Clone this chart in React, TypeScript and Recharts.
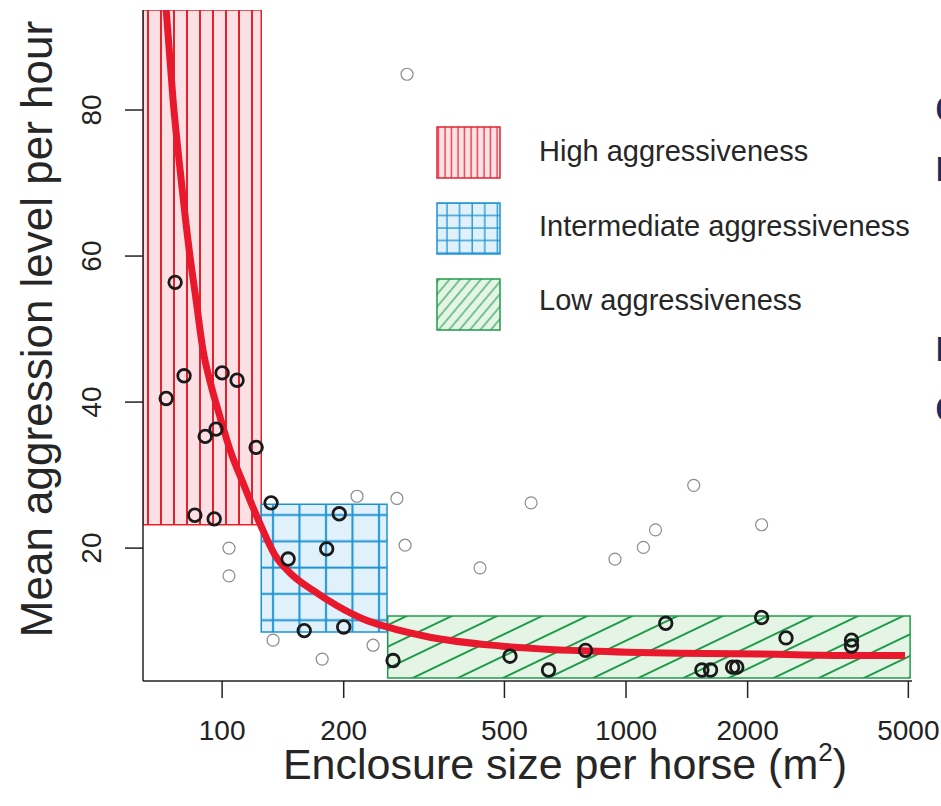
import React from 'react';
import { ComposedChart, XAxis, YAxis, Scatter, Line, ReferenceArea } from 'recharts';

// enclosure size (m2) and mean aggression per hour
const boldSize = [76.5, 72.7, 80.5, 100, 108.9, 90.8, 96.6, 121.4, 85.6, 95.6, 132.2, 145.7, 181.5, 195, 159.7, 200, 265, 516, 643, 794, 1254, 1541, 1619, 1836, 1880, 2166, 2489, 3616, 3616];
const boldRate = [56.4, 40.5, 43.6, 44.0, 43.0, 35.3, 36.3, 33.8, 24.5, 24.0, 26.2, 18.5, 19.9, 24.7, 8.7, 9.2, 4.6, 5.2, 3.3, 6.0, 9.7, 3.3, 3.3, 3.7, 3.7, 10.5, 7.7, 7.4, 6.6];

const greySize = [287, 104, 104, 133.7, 176.9, 215.8, 236.5, 270.9, 283.8, 435, 582, 939, 1104, 1183, 1471, 2166];
const greyRate = [84.9, 20.0, 16.2, 7.4, 4.8, 27.1, 6.7, 26.8, 20.4, 17.3, 26.2, 18.5, 20.1, 22.5, 28.6, 23.2];

// fitted curve
const curveSize = [72.7, 75.6, 79.2, 82.9, 86.2, 89.7, 93.9, 98.9, 104.7, 112.7, 124.2, 135.3, 147.3, 168, 192.6, 223.4, 256, 327, 488, 815, 1360, 2146, 3585, 4906];
const curveRate = [93.7, 81.4, 70.4, 60.8, 54.0, 47.1, 42.3, 37.9, 33.4, 28.9, 23.3, 19.0, 16.6, 14.2, 12.1, 10.3, 9.2, 7.8, 6.6, 5.9, 5.6, 5.5, 5.3, 5.3];

// aggressiveness zones
const zoneNames = ['High aggressiveness', 'Intermediate aggressiveness', 'Low aggressiveness'];
const zoneSizeFrom = [63.7, 125, 257];
const zoneSizeTo = [125, 256, 5050];
const zoneRateFrom = [23.2, 8.5, 2.2];
const zoneRateTo = [93.7, 26.0, 10.7];

const xTicks = [100, 200, 500, 1000, 2000, 5000];
const yTicks = [20, 40, 60, 80];

const FONT = '"Liberation Sans", Arial, sans-serif';
const zoneFill = ['url(#hatchRed)', 'url(#hatchBlue)', 'url(#hatchGreen)'];
const zoneStroke = ['#e3222e', '#1b93d3', '#1f9a4a'];
const legendFill = ['url(#legRed)', 'url(#legBlue)', 'url(#legGreen)'];

const bold = boldSize.map((x, i) => ({ x, y: boldRate[i] }));
const grey = greySize.map((x, i) => ({ x, y: greyRate[i] }));
const curve = curveSize.map((x, i) => ({ x, y: curveRate[i] }));

const XTick = (p: any) => (
  <text x={p.x} y={p.y + 40} textAnchor="middle" fontSize={28} fontFamily={FONT} fill="#222">
    {p.payload.value}
  </text>
);

const YTick = (p: any) => {
  const bx = p.x - 22;
  return (
    <text x={bx} y={p.y} transform={`rotate(-90 ${bx} ${p.y})`} textAnchor="middle" fontSize={28} fontFamily={FONT} fill="#222">
      {p.payload.value}
    </text>
  );
};

const BoldDot = (p: any) => <circle cx={p.cx} cy={p.cy} r={6.3} fill="none" stroke="#1a1a1a" strokeWidth={2.8} />;
const GreyDot = (p: any) => <circle cx={p.cx} cy={p.cy} r={6} fill="none" stroke="#8c8c8c" strokeWidth={1.2} />;

export default function App() {
  return (
    <div style={{ position: 'absolute', left: 0, top: 0, width: 941, height: 806, overflow: 'hidden', background: '#fff' }}>
      <ComposedChart width={941} height={806} margin={{ top: 10, right: 29, bottom: 0, left: 0 }}>
        <defs>
          <pattern id="hatchRed" patternUnits="userSpaceOnUse" width={13} height={10}>
            <rect width={13} height={10} fill="#fde0e4" />
            <line x1={5} y1={0} x2={5} y2={10} stroke="#e3222e" strokeWidth={2} />
          </pattern>
          <pattern id="hatchBlue" patternUnits="userSpaceOnUse" width={26.5} height={26.3}>
            <rect width={26.5} height={26.3} fill="#e1f1fb" />
            <line x1={8} y1={0} x2={8} y2={26.3} stroke="#1b93d3" strokeWidth={2} />
            <line x1={0} y1={15.3} x2={26.5} y2={15.3} stroke="#1b93d3" strokeWidth={2} />
          </pattern>
          <pattern id="hatchGreen" patternUnits="userSpaceOnUse" width={10} height={19.5} patternTransform="rotate(-25.6)">
            <rect width={10} height={19.5} fill="#e4f5e6" />
            <line x1={0} y1={9.75} x2={10} y2={9.75} stroke="#1f9a4a" strokeWidth={2} />
          </pattern>
        </defs>
        <XAxis
          dataKey="x"
          type="number"
          scale="log"
          domain={[63.7, 5105]}
          allowDataOverflow
          ticks={xTicks}
          height={125}
          tickSize={17}
          tick={<XTick />}
          axisLine={{ stroke: '#222', strokeWidth: 1.5 }}
          tickLine={{ stroke: '#222', strokeWidth: 1.5 }}
        />
        <YAxis
          dataKey="y"
          type="number"
          domain={[1.8, 93.7]}
          allowDataOverflow
          ticks={yTicks}
          width={143}
          tickSize={18}
          tick={<YTick />}
          axisLine={{ stroke: '#222', strokeWidth: 1.5 }}
          tickLine={{ stroke: '#222', strokeWidth: 1.5 }}
        />
        {zoneNames.map((n, i) => (
          <ReferenceArea
            key={n}
            x1={zoneSizeFrom[i]}
            x2={zoneSizeTo[i]}
            y1={zoneRateFrom[i]}
            y2={zoneRateTo[i]}
            fill={zoneFill[i]}
            fillOpacity={1}
            stroke={zoneStroke[i]}
            strokeWidth={1.5}
            ifOverflow="hidden"
          />
        ))}
        <Scatter data={grey} dataKey="y" shape={<GreyDot />} isAnimationActive={false} />
        <Scatter data={bold} dataKey="y" shape={<BoldDot />} isAnimationActive={false} />
        <Line data={curve} dataKey="y" type="monotone" stroke="#e8192c" strokeWidth={7} dot={false} activeDot={false} isAnimationActive={false} />
      </ComposedChart>

      <svg width={941} height={806} style={{ position: 'absolute', left: 0, top: 0, pointerEvents: 'none' }}>
        <defs>
          <pattern id="legRed" patternUnits="userSpaceOnUse" width={6.5} height={10}>
            <rect width={6.5} height={10} fill="#fde3e6" />
            <line x1={3} y1={0} x2={3} y2={10} stroke="#e3222e" strokeWidth={1.2} />
          </pattern>
          <pattern id="legBlue" patternUnits="userSpaceOnUse" width={12.6} height={12.5}>
            <rect width={12.6} height={12.5} fill="#e1f1fb" />
            <line x1={6} y1={0} x2={6} y2={12.5} stroke="#1b93d3" strokeWidth={1.3} />
            <line x1={0} y1={3} x2={12.6} y2={3} stroke="#1b93d3" strokeWidth={1.3} />
          </pattern>
          <pattern id="legGreen" patternUnits="userSpaceOnUse" width={8} height={8} patternTransform="rotate(-50)">
            <rect width={8} height={8} fill="#e4f5e6" />
            <line x1={0} y1={4} x2={8} y2={4} stroke="#1f9a4a" strokeWidth={1.1} />
          </pattern>
        </defs>
        {zoneNames.map((n, i) => (
          <g key={n}>
            <rect x={437} y={127 + i * 76} width={63} height={51} fill={legendFill[i]} stroke={zoneStroke[i]} strokeWidth={1.5} />
            <text x={539} y={161 + i * 74.5} fontSize={29} fontFamily={FONT} fill="#262626">{n}</text>
          </g>
        ))}
        <text x={52} y={329} transform="rotate(-90 52 329)" textAnchor="middle" fontSize={44} fontFamily={FONT} fill="#262626">
          Mean aggression level per hour
        </text>
        <text x={565} y={779} textAnchor="middle" fontSize={43} fontFamily={FONT} fill="#262626">
          Enclosure size per horse (m<tspan fontSize={26} dy={-18}>2</tspan><tspan dy={18}>)</tspan>
        </text>
        <g fontSize={44} fontFamily={FONT} fill="#1d2a5a">
          <text x={935} y={121}>c</text>
          <text x={935} y={181}>n</text>
          <text x={935} y={361}>n</text>
          <text x={935} y={421}>e</text>
        </g>
      </svg>
    </div>
  );
}
